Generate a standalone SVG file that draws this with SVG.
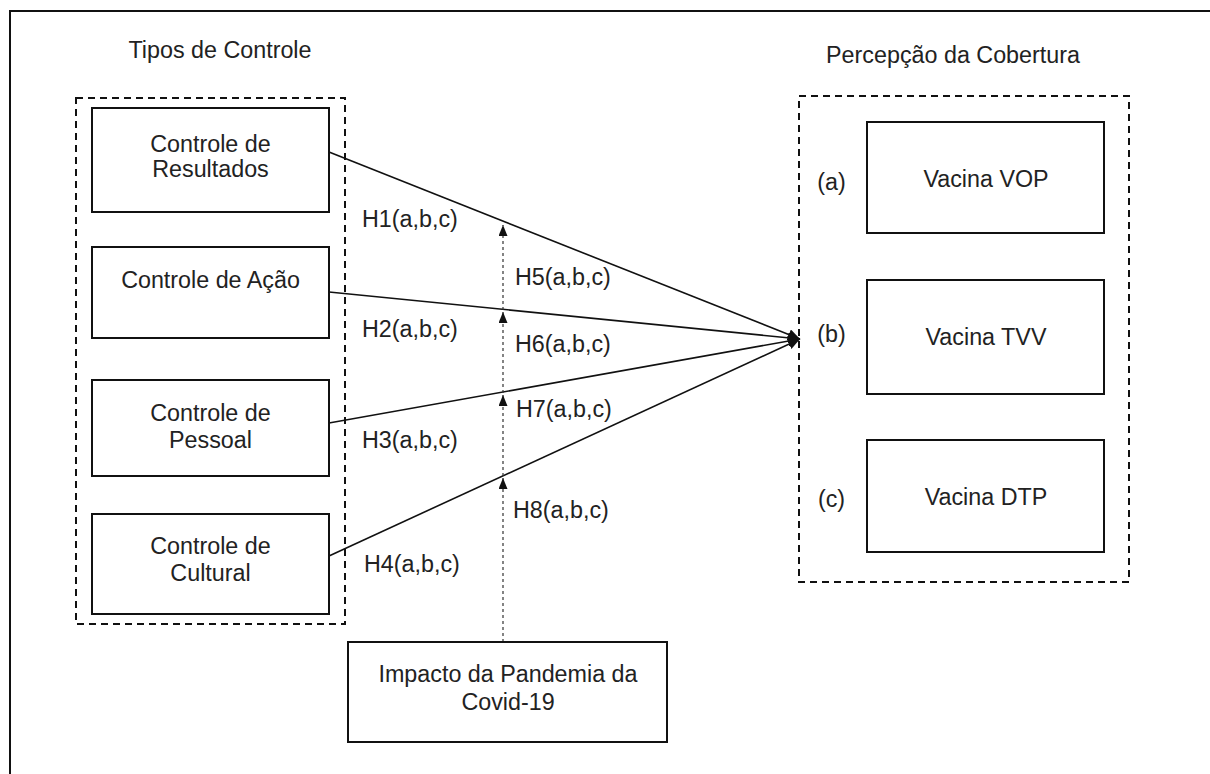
<svg xmlns="http://www.w3.org/2000/svg" width="1210" height="774" viewBox="0 0 1210 774">
<style>
text{font-family:"Liberation Sans",Arial,sans-serif;font-size:23.3px;fill:#222}
.c{text-anchor:middle}
.box{fill:#fff;stroke:#111;stroke-width:2}
.grp{fill:none;stroke:#111;stroke-width:2;stroke-dasharray:7 5}
.ln{stroke:#111;stroke-width:1.6;fill:none}
.dot{stroke:#333;stroke-width:1.2;stroke-dasharray:3 3;fill:none}
</style>
<defs>
<marker id="ah" viewBox="0 0 12 11" refX="12" refY="5.5" markerWidth="12" markerHeight="11" markerUnits="userSpaceOnUse" orient="auto">
<path d="M0,0 L12,5.5 L0,11 Z" fill="#111"/>
</marker>
<marker id="sh" viewBox="0 0 11 9" refX="11" refY="4.5" markerWidth="11" markerHeight="9" markerUnits="userSpaceOnUse" orient="auto">
<path d="M0,0 L11,4.5 L0,9 Z" fill="#111"/>
</marker>
</defs>
<rect width="1210" height="774" fill="#fff"/>
<rect x="10" y="11" width="1230" height="800" fill="none" stroke="#111" stroke-width="2"/>

<g id="tipos-de-controle">
<text class="c" x="220" y="58">Tipos de Controle</text>
<rect class="grp" x="76" y="98" width="269" height="526"/>
</g>
<g id="percepcao-da-cobertura">
<text class="c" x="953" y="63">Percepção da Cobertura</text>
<rect class="grp" x="799" y="96" width="330" height="486"/>
</g>

<g id="connectors">
<line class="ln" x1="329" y1="152" x2="800" y2="339" marker-end="url(#ah)"/>
<line class="ln" x1="329" y1="292" x2="800" y2="339" marker-end="url(#ah)"/>
<line class="ln" x1="329" y1="423" x2="800" y2="339" marker-end="url(#ah)"/>
<line class="ln" x1="329" y1="556" x2="800" y2="339" marker-end="url(#ah)"/>
<line class="dot" x1="503" y1="642" x2="503" y2="478" marker-end="url(#sh)"/>
<line class="dot" x1="503" y1="476" x2="503" y2="395" marker-end="url(#sh)"/>
<line class="dot" x1="503" y1="393" x2="503" y2="312" marker-end="url(#sh)"/>
<line class="dot" x1="503" y1="310" x2="503" y2="225" marker-end="url(#sh)"/>
<text x="362" y="227">H1(a,b,c)</text>
<text x="515" y="285">H5(a,b,c)</text>
<text x="362" y="337">H2(a,b,c)</text>
<text x="515" y="352">H6(a,b,c)</text>
<text x="516" y="417">H7(a,b,c)</text>
<text x="362" y="448">H3(a,b,c)</text>
<text x="513" y="518">H8(a,b,c)</text>
<text x="364" y="572">H4(a,b,c)</text>
</g>

<g id="controle-resultados">
<rect class="box" x="92" y="108" width="237" height="104"/>
<text class="c" x="210.5" y="152">Controle de</text>
<text class="c" x="210.5" y="177">Resultados</text>
</g>
<g id="controle-acao">
<rect class="box" x="92" y="247" width="237" height="91"/>
<text class="c" x="210.5" y="288">Controle de Ação</text>
</g>
<g id="controle-pessoal">
<rect class="box" x="92" y="380" width="237" height="96"/>
<text class="c" x="210.5" y="421">Controle de</text>
<text class="c" x="210.5" y="448">Pessoal</text>
</g>
<g id="controle-cultural">
<rect class="box" x="92" y="514" width="237" height="100"/>
<text class="c" x="210.5" y="554">Controle de</text>
<text class="c" x="210.5" y="581">Cultural</text>
</g>

<g id="vacina-vop">
<text class="c" x="831.5" y="190">(a)</text>
<rect class="box" x="867" y="122" width="237" height="111"/>
<text class="c" x="986" y="187">Vacina VOP</text>
</g>
<g id="vacina-tvv">
<text class="c" x="831.5" y="342">(b)</text>
<rect class="box" x="867" y="280" width="237" height="114"/>
<text class="c" x="986" y="345">Vacina TVV</text>
</g>
<g id="vacina-dtp">
<text class="c" x="831.5" y="507">(c)</text>
<rect class="box" x="867" y="440" width="237" height="112"/>
<text class="c" x="986" y="505">Vacina DTP</text>
</g>

<g id="impacto-pandemia">
<rect class="box" x="348" y="642" width="319" height="100"/>
<text class="c" x="508" y="682">Impacto da Pandemia da</text>
<text class="c" x="508" y="710">Covid-19</text>
</g>
</svg>
